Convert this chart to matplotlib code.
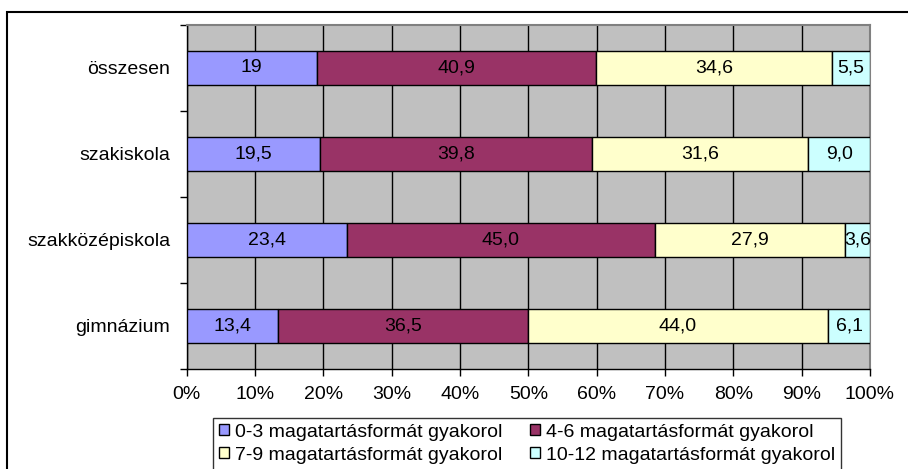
import matplotlib
matplotlib.use("Agg")
import matplotlib.pyplot as plt
from matplotlib.patches import Patch, Rectangle
import numpy as np

plt.rcParams['font.family'] = ['Liberation Sans', 'DejaVu Sans']

categories = ["összesen", "szakiskola", "szakközépiskola", "gimnázium"]
series_names = ["0-3 magatartásformát gyakorol", "4-6 magatartásformát gyakorol",
                "7-9 magatartásformát gyakorol", "10-12 magatartásformát gyakorol"]
s03 = [19.0, 19.5, 23.4, 13.4]
s46 = [40.9, 39.8, 45.0, 36.5]
s79 = [34.6, 31.6, 27.9, 44.0]
s1012 = [5.5, 9.0, 3.6, 6.1]
label_03 = ["19", "19,5", "23,4", "13,4"]
label_46 = ["40,9", "39,8", "45,0", "36,5"]
label_79 = ["34,6", "31,6", "27,9", "44,0"]
label_1012 = ["5,5", "9,0", "3,6", "6,1"]
colors = ["#9999FF", "#993366", "#FFFFCC", "#CCFFFF"]
xticks = [0, 10, 20, 30, 40, 50, 60, 70, 80, 90, 100]

W, H = 908, 469
fig = plt.figure(figsize=(W / 100, H / 100), dpi=100)
ax = fig.add_axes([186.7 / W, 1 - 369 / H, (870 - 186.7) / W, (369 - 24.7) / H])

data = np.array([s03, s46, s79, s1012])
labels = [label_03, label_46, label_79, label_1012]
totals = data.sum(axis=0)
pct = data / totals * 100
y = np.arange(len(categories))
left = np.zeros(len(categories))
FS = 14
for i in range(4):
    ax.barh(y, pct[i], left=left, height=0.4, color=colors[i], edgecolor='black',
            linewidth=1.0, zorder=3)
    for j in range(len(categories)):
        ax.text(left[j] + pct[i][j] / 2, y[j], labels[i][j], ha='center', va='center',
                fontsize=FS, color='black', zorder=4)
    left += pct[i]

ax.set_facecolor('#C0C0C0')
ax.set_xlim(0, 100)
ax.set_ylim(len(categories) - 0.5, -0.5)
ax.set_xticks(xticks)
ax.set_xticklabels([f"{t}%" for t in xticks], fontsize=FS)
ax.grid(axis='x', color='black', linewidth=1.0, zorder=1)
ax.set_axisbelow(True)
ax.set_yticks(np.arange(-0.5, len(categories), 1.0))
ax.set_yticklabels([])
ax.set_yticks(y, minor=True)
ax.set_yticklabels(categories, minor=True, fontsize=FS)
ax.tick_params(axis='y', which='minor', length=0, pad=12)
ax.tick_params(axis='y', which='major', length=5, width=1, direction='out')
ax.tick_params(axis='x', length=5, width=1, direction='out', pad=7)
for s in ['left', 'bottom']:
    ax.spines[s].set_color('black')
    ax.spines[s].set_linewidth(1.0)
for s in ['top', 'right']:
    ax.spines[s].set_color('#808080')
    ax.spines[s].set_linewidth(1.5)

handles = [Patch(facecolor=c, edgecolor='black', linewidth=1.0) for c in colors]
order = [0, 2, 1, 3]
leg = fig.legend([handles[k] for k in order], [series_names[k] for k in order],
                 ncol=2, loc='upper left', bbox_to_anchor=(213 / W, 1 - 418 / H),
                 bbox_transform=fig.transFigure, fontsize=FS, frameon=True,
                 fancybox=False, edgecolor='black', borderaxespad=0, borderpad=0.3,
                 handlelength=0.5, handleheight=0.5, handletextpad=0.35,
                 columnspacing=1.4, labelspacing=0.3)
leg.get_frame().set_linewidth(1.0)

fig.patches.append(Rectangle((7 / W, -0.1), 1.2, 1 - 12 / H + 0.1, transform=fig.transFigure,
                             fill=False, edgecolor='black', linewidth=1.5))

fig.savefig("out.png", dpi=100)
